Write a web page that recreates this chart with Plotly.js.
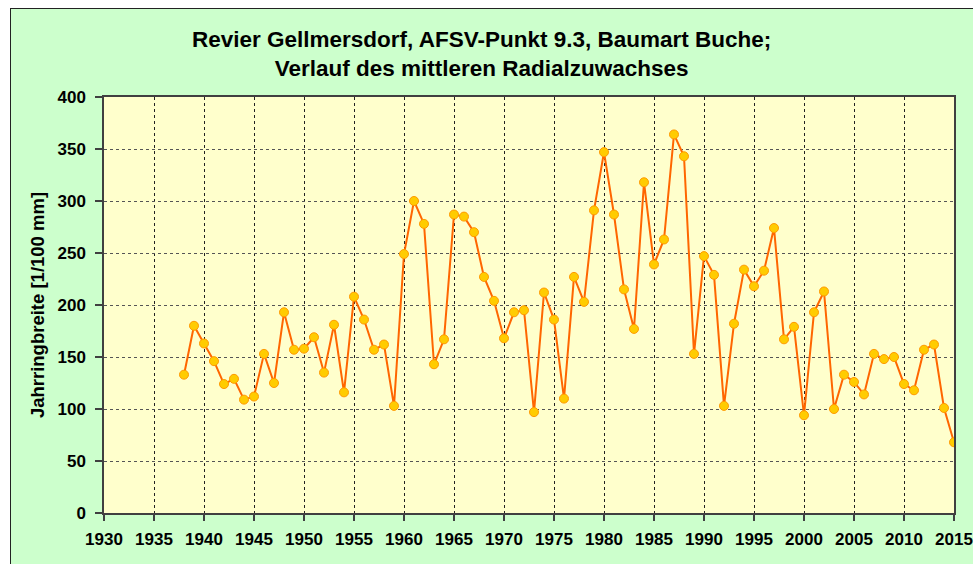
<!DOCTYPE html>
<html>
<head>
<meta charset="utf-8">
<script src="https://cdn.plot.ly/plotly-3.0.1.min.js"></script>
<style>
  html, body { margin: 0; padding: 0; background: #ffffff; }
  #frame { position: absolute; left: 10px; top: 8px; width: 963px; height: 556px;
           background: #CCFFCC; border-left: 1px solid #222; border-top: 1px solid #222; box-sizing: border-box; }
  #chart { position: absolute; left: 0; top: 0; width: 973px; height: 564px; }
</style>
</head>
<body>
<div id="frame"></div>
<div id="chart"></div>
<script>
const years = [1938,1939,1940,1941,1942,1943,1944,1945,1946,1947,1948,1949,1950,1951,1952,1953,1954,1955,1956,1957,1958,1959,
  1960,1961,1962,1963,1964,1965,1966,1967,1968,1969,1970,1971,1972,1973,1974,1975,1976,1977,1978,1979,
  1980,1981,1982,1983,1984,1985,1986,1987,1988,1989,1990,1991,1992,1993,1994,1995,1996,1997,1998,1999,
  2000,2001,2002,2003,2004,2005,2006,2007,2008,2009,2010,2011,2012,2013,2014,2015];
const ringWidth = [133,180,163,146,124,129,109,112,153,125,193,157,158,169,135,181,116,208,186,157,162,103,
  249,300,278,143,167,287,285,270,227,204,168,193,195,97,212,186,110,227,203,291,
  347,287,215,177,318,239,263,364,343,153,247,229,103,182,234,218,233,274,167,179,
  94,193,213,100,133,126,114,153,148,150,124,118,157,162,101,68];
const titleLines = ['Revier Gellmersdorf, AFSV-Punkt 9.3, Baumart Buche;', 'Verlauf des mittleren Radialzuwachses'];
const yTitle = 'Jahrringbreite [1/100 mm]';

const font = 'Arial, "Liberation Sans", sans-serif';

Plotly.newPlot('chart', [{
  x: years, y: ringWidth, type: 'scatter', mode: 'lines+markers',
  line: { color: '#FF6600', width: 2 },
  marker: { size: 9, color: '#FFCC00', line: { color: '#FF9900', width: 1 } },
  hoverinfo: 'x+y'
}], {
  width: 973, height: 564,
  margin: { l: 104, r: 19, t: 97, b: 51 },
  paper_bgcolor: 'rgba(0,0,0,0)',
  plot_bgcolor: '#FFFFCC',
  showlegend: false,
  font: { family: font, color: '#000' },
  title: {
    text: titleLines.join('<br>'),
    font: { family: font, size: 22.5, color: '#000', weight: 'bold' },
    x: 0.495, xref: 'container', xanchor: 'center',
    y: 1 - 47/564, yref: 'container', yanchor: 'top'
  },
  xaxis: {
    range: [1930, 2015], dtick: 5, tick0: 1930,
    showgrid: true, gridcolor: '#222', griddash: 'dot', gridwidth: 1,
    showline: true, linecolor: '#404040', linewidth: 1.5, mirror: true,
    ticks: 'outside', ticklen: 6, tickcolor: '#404040', tickwidth: 1.5,
    ticklabelstandoff: 4,
    tickfont: { family: font, size: 17, color: '#000', weight: 'bold' },
    zeroline: false, fixedrange: true
  },
  yaxis: {
    range: [0, 400], dtick: 50, tick0: 0,
    showgrid: true, gridcolor: '#555', griddash: 'dot', gridwidth: 1,
    showline: true, linecolor: '#404040', linewidth: 1.5, mirror: true,
    ticks: 'outside', ticklen: 7, tickcolor: '#404040', tickwidth: 1.5,
    ticklabelstandoff: 6,
    tickfont: { family: font, size: 17, color: '#000', weight: 'bold' },
    title: { text: yTitle, font: { family: font, size: 18.5, color: '#000', weight: 'bold' }, standoff: 8 },
    zeroline: false, fixedrange: true
  }
}, { displayModeBar: false, staticPlot: false });
</script>
</body>
</html>
